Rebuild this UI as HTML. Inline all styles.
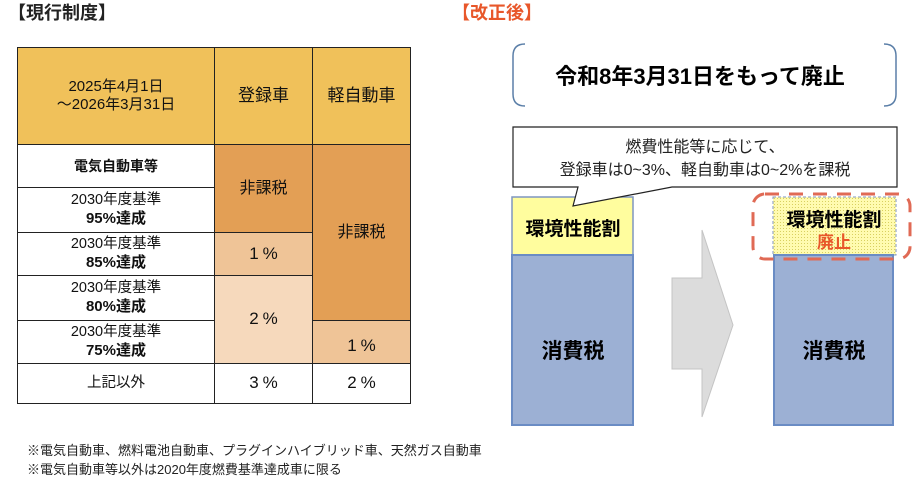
<!DOCTYPE html>
<html><head><meta charset="utf-8"><style>
body{margin:0;width:921px;height:482px;background:#fff;position:relative;overflow:hidden;font-family:"Liberation Sans","Noto Sans CJK JP",sans-serif;color:#111}
.a{position:absolute;box-sizing:border-box;display:flex;align-items:center;justify-content:center;text-align:center;line-height:1.2}
.b{border:1.5px solid #222}
.p{letter-spacing:4px;padding-left:4px}
.a b{font-size:15px}
</style></head><body>
<div class="a" style="left:8px;top:3px;font-size:18px;font-weight:bold;color:#222">【現行制度】</div>
<div class="a" style="left:452px;top:3px;font-size:18px;font-weight:bold;color:#e8572a">【改正後】</div>

<div class="a b" style="left:17px;top:47px;width:198px;height:98px;background:#f0c15a;font-size:15px"><div>2025年4月1日<br>～2026年3月31日</div></div>
<div class="a b" style="left:214px;top:47px;width:99px;height:98px;background:#f0c15a;font-size:17px">登録車</div>
<div class="a b" style="left:312px;top:47px;width:99px;height:98px;background:#f0c15a;font-size:17px">軽自動車</div>

<div class="a b" style="left:17px;top:144px;width:198px;height:44px;font-size:14px;font-weight:bold">電気自動車等</div>
<div class="a b" style="left:17px;top:187px;width:198px;height:46px;font-size:14.5px"><div>2030年度基準<br><b>95%達成</b></div></div>
<div class="a b" style="left:17px;top:232px;width:198px;height:44px;font-size:14.5px"><div>2030年度基準<br><b>85%達成</b></div></div>
<div class="a b" style="left:17px;top:275px;width:198px;height:46px;font-size:14.5px"><div>2030年度基準<br><b>80%達成</b></div></div>
<div class="a b" style="left:17px;top:320px;width:198px;height:44px;font-size:14.5px"><div>2030年度基準<br><b>75%達成</b></div></div>
<div class="a b" style="left:17px;top:363px;width:198px;height:41px;font-size:14.5px">上記以外</div>

<div class="a b" style="left:214px;top:144px;width:99px;height:89px;background:#e39f55;font-size:16px">非課税</div>
<div class="a b p" style="left:214px;top:232px;width:99px;height:44px;background:#efc497;font-size:17px">1%</div>
<div class="a b p" style="left:214px;top:275px;width:99px;height:89px;background:#f6d9bc;font-size:17px">2%</div>
<div class="a b p" style="left:214px;top:363px;width:99px;height:41px;font-size:17px">3%</div>

<div class="a b" style="left:312px;top:144px;width:99px;height:177px;background:#e39f55;font-size:16px">非課税</div>
<div class="a b p" style="left:312px;top:320px;width:99px;height:44px;background:#efc497;font-size:17px;padding-top:8px">1%</div>
<div class="a b p" style="left:312px;top:363px;width:99px;height:41px;font-size:17px">2%</div>

<div style="position:absolute;left:27px;top:441px;font-size:13px;line-height:19px;color:#222">※電気自動車、燃料電池自動車、プラグインハイブリッド車、天然ガス自動車<br>※電気自動車等以外は2020年度燃費基準達成車に限る</div>

<svg style="position:absolute;left:0;top:0" width="921" height="482">
<defs><pattern id="dt" width="3" height="3" patternUnits="userSpaceOnUse"><rect width="3" height="3" fill="#fffbb0"/><rect width="1" height="1" fill="#d8d060"/></pattern></defs>
<path d="M525 44 Q513 44 513 56 V94 Q513 106 525 106" fill="none" stroke="#5b7fa8" stroke-width="1.5"/>
<path d="M884 44 Q896 44 896 56 V94 Q896 106 884 106" fill="none" stroke="#5b7fa8" stroke-width="1.5"/>
<text x="700" y="84" font-size="22" font-weight="bold" text-anchor="middle" fill="#000">令和8年3月31日をもって廃止</text>

<rect x="512" y="197" width="121" height="58" fill="#fffd9e" stroke="#7f95c0" stroke-width="1.5"/>
<rect x="512" y="255" width="121" height="170" fill="#9cb0d4" stroke="#6a8cc4" stroke-width="2"/>
<text x="573" y="235" font-size="19" font-weight="bold" text-anchor="middle">環境性能割</text>
<text x="573" y="358" font-size="21" font-weight="bold" text-anchor="middle">消費税</text>

<path d="M513 127 H897 V187 H672 L573 206 L578 187 H513 Z" fill="#fff" stroke="#222" stroke-width="1.2"/>
<text x="705" y="152" font-size="16" text-anchor="middle" fill="#222">燃費性能等に応じて、</text>
<text x="705" y="175" font-size="16" text-anchor="middle" fill="#222">登録車は0~3%、軽自動車は0~2%を課税</text>

<path d="M672 278 H702 V230 L733 325 L702 417 V369 H672 Z" fill="#dcdcdc" stroke="#c4c4c4" stroke-width="1"/>

<rect x="773" y="197" width="123" height="58" fill="url(#dt)" stroke="#7f95c0" stroke-width="1" stroke-dasharray="3,2"/>
<rect x="774" y="255" width="119" height="170" fill="#9cb0d4" stroke="#6a8cc4" stroke-width="2"/>
<text x="834" y="226" font-size="19" font-weight="bold" text-anchor="middle">環境性能割</text>
<text x="834" y="248" font-size="17" font-weight="bold" text-anchor="middle" fill="#e8572a">廃止</text>
<text x="834" y="358" font-size="21" font-weight="bold" text-anchor="middle">消費税</text>
<rect x="753" y="194" width="157" height="65" rx="12" fill="none" stroke="#e06a55" stroke-width="3" stroke-dasharray="14,10"/>
</svg>
</body></html>
